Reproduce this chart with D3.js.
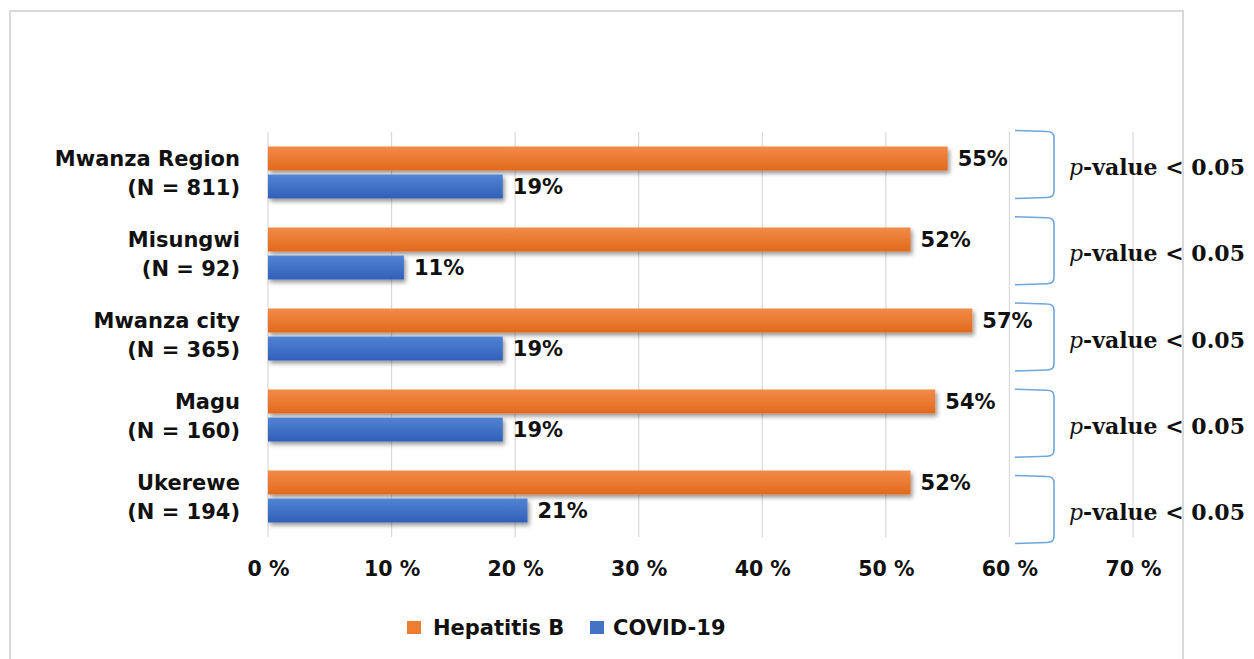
<!DOCTYPE html>
<html>
<head>
<meta charset="utf-8">
<script src="https://cdn.jsdelivr.net/npm/d3@7"></script>
<style>
  html, body { margin: 0; padding: 0; background: #fff; }
  svg { display: block; }
</style>
</head>
<body>
<svg id="chart" width="1254" height="659"></svg>
<script>
// ---- data ----
const categories = ["Mwanza Region", "Misungwi", "Mwanza city", "Magu", "Ukerewe"];
const sampleSizes = ["(N = 811)", "(N = 92)", "(N = 365)", "(N = 160)", "(N = 194)"];
const seriesNames = ["Hepatitis B", "COVID-19"];
const hepatitisB = [55, 52, 57, 54, 52];
const covid19 = [19, 11, 19, 19, 21];
const xTicks = [0, 10, 20, 30, 40, 50, 60, 70];
const pValueLabel = "-value < 0.05";

// ---- layout ----
const svg = d3.select("#chart");
const plot = { left: 268, right: 1133, top: 132, bottom: 537 };
const colors = { "Hepatitis B": "#ed7d31", "COVID-19": "#4472c4" };
const labelFont = "'DejaVu Sans', Verdana, sans-serif";
const serifFont = "'DejaVu Serif', serif";

const defs = svg.append("defs");
const grad = (id, top, bot) => {
  const g = defs.append("linearGradient").attr("id", id)
    .attr("x1", 0).attr("y1", 0).attr("x2", 0).attr("y2", 1);
  g.append("stop").attr("offset", "0%").attr("stop-color", top);
  g.append("stop").attr("offset", "100%").attr("stop-color", bot);
};
grad("gHep", "#f28b48", "#e2691d");
grad("gCov", "#5283d4", "#3160b8");
const fill = { "Hepatitis B": "url(#gHep)", "COVID-19": "url(#gCov)" };
const f = defs.append("filter").attr("id", "shadow")
  .attr("x", "-5%").attr("y", "-30%").attr("width", "115%").attr("height", "180%");
f.append("feDropShadow").attr("dx", 2).attr("dy", 3).attr("stdDeviation", 2)
  .attr("flood-color", "#000").attr("flood-opacity", 0.4);

// frame
svg.append("rect").attr("x", 10).attr("y", 11).attr("width", 1173).attr("height", 680)
  .attr("fill", "none").attr("stroke", "#d9d9d9").attr("stroke-width", 2);

// scales
const x = d3.scaleLinear().domain([0, 70]).range([plot.left, plot.right]);
const y = d3.scaleBand().domain(categories).range([plot.top, plot.bottom]).padding(0);
const ySub = d3.scaleBand().domain(seriesNames).range([14.5, 66.5]).paddingInner(4 / 28);

// gridlines
svg.append("g").selectAll("line").data(xTicks).join("line")
  .attr("x1", d => x(d)).attr("x2", d => x(d))
  .attr("y1", plot.top).attr("y2", plot.bottom)
  .attr("stroke", "#d9d9d9").attr("stroke-width", 1.2);

// x axis labels via d3 axis
const xAxis = d3.axisBottom(x).tickValues(xTicks).tickFormat(d => d + " %").tickSize(0).tickPadding(0);
const gx = svg.append("g").attr("transform", `translate(0,${plot.bottom})`).call(xAxis);
gx.select(".domain").remove();
gx.selectAll("text").attr("y", 32).attr("dy", "0.35em")
  .attr("font-family", labelFont).attr("font-weight", "bold").attr("font-size", 20.5)
  .attr("fill", "#111");

// category labels
const yAxis = d3.axisLeft(y).tickSize(0).tickFormat("");
const gy = svg.append("g").attr("transform", `translate(${plot.left},0)`).call(yAxis);
gy.select(".domain").remove();
categories.forEach((c, i) => {
  const cy = y(c) + y.bandwidth() / 2;
  const t = svg.append("text").attr("text-anchor", "end")
    .attr("font-family", labelFont).attr("font-weight", "bold").attr("font-size", 21)
    .attr("fill", "#111");
  t.append("tspan").attr("x", 240).attr("y", cy - 14).attr("dy", "0.35em").text(c);
  t.append("tspan").attr("x", 240).attr("y", cy + 15).attr("dy", "0.35em").text(sampleSizes[i]);
});

// bars
const rows = [];
categories.forEach((c, i) => {
  rows.push({ cat: c, series: "Hepatitis B", v: hepatitisB[i] });
  rows.push({ cat: c, series: "COVID-19", v: covid19[i] });
});
svg.append("g").attr("filter", "url(#shadow)").selectAll("rect").data(rows).join("rect")
  .attr("x", x(0))
  .attr("y", d => y(d.cat) + ySub(d.series))
  .attr("width", d => x(d.v) - x(0))
  .attr("height", ySub.bandwidth())
  .attr("fill", d => fill[d.series]);

// value labels
svg.append("g").selectAll("text").data(rows).join("text")
  .attr("x", d => x(d.v) + 10)
  .attr("y", d => y(d.cat) + ySub(d.series) + ySub.bandwidth() / 2)
  .attr("dy", "0.36em")
  .attr("font-family", labelFont).attr("font-weight", "bold").attr("font-size", 21)
  .attr("fill", "#111")
  .text(d => d.v + "%");

// brackets + p-value annotations
const yAnn = d3.scalePoint().domain(categories).range([164.5, 509.5]);
const bx0 = 1015, bx1 = 1054, half = 34;
categories.forEach(c => {
  const cy = yAnn(c);
  const top = cy - half, bot = cy + half;
  svg.append("path")
    .attr("d", `M${bx0},${top} L${bx1 - 7},${top + 1} Q${bx1},${top + 1} ${bx1},${top + 7} L${bx1},${bot - 7} Q${bx1},${bot - 1} ${bx1 - 7},${bot - 1} L${bx0},${bot}`)
    .attr("fill", "none").attr("stroke", "#6fa6dc").attr("stroke-width", 1.6);
  const t = svg.append("text").attr("x", 1069).attr("y", cy + 3).attr("dy", "0.35em")
    .attr("font-family", serifFont).attr("font-size", 22).attr("fill", "#111");
  t.append("tspan").attr("font-style", "italic").text("p");
  t.append("tspan").attr("font-weight", "bold").text(pValueLabel);
});

// legend
const leg = svg.append("g");
const legItems = [
  { name: "Hepatitis B", sx: 407, tx: 433 },
  { name: "COVID-19", sx: 590, tx: 613 }
];
legItems.forEach(d => {
  leg.append("rect").attr("x", d.sx).attr("y", 621).attr("width", 14).attr("height", 13)
    .attr("fill", colors[d.name]);
  leg.append("text").attr("x", d.tx).attr("y", 627).attr("dy", "0.36em")
    .attr("font-family", labelFont).attr("font-weight", "bold").attr("font-size", 21)
    .attr("fill", "#111").text(d.name);
});
</script>
</body>
</html>
